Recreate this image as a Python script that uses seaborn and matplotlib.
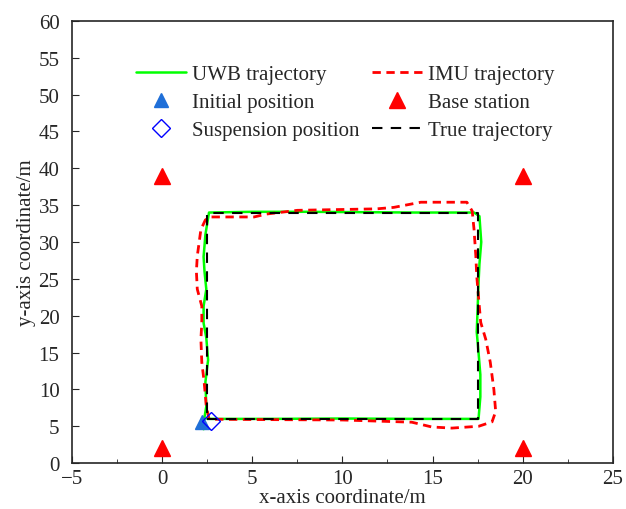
import numpy as np
import pandas as pd
import seaborn as sns
import matplotlib
matplotlib.use("Agg")
import matplotlib.pyplot as plt
from matplotlib.ticker import MultipleLocator

# True trajectory (rectangle corners)
true_x = [2.5, 17.5, 17.5, 2.5, 2.5]
true_y = [6, 6, 34, 34, 6]

# UWB trajectory
uwb_x = [2.3, 2.3, 2.45, 2.4, 2.55, 2.45, 2.3, 2.3, 2.45, 2.35, 2.3, 2.4, 2.6,
         5.0, 8.0, 11.0, 14.0, 17.3, 17.6, 17.7, 17.6, 17.55, 17.5, 17.45,
         17.55, 17.65, 17.65, 17.55, 14.0, 10.0, 6.0, 2.5]
uwb_y = [4.6, 5.5, 7.7, 11.0, 14.0, 17.0, 19.0, 21.3, 23.6, 26.0, 28.0, 31.0, 34.0,
         34.1, 34.1, 34.05, 34.0, 34.0, 33.5, 30.0, 27.0, 24.5, 21.0, 17.8,
         15.0, 12.0, 9.0, 6.0, 6.0, 6.05, 6.0, 6.0]

# IMU trajectory
imu_x = [2.6, 2.45, 2.33, 2.2, 2.15, 2.2, 2.2, 1.95, 1.9, 1.95, 2.15, 2.4, 2.7,
         5.1, 5.8, 7.5, 11.9, 12.85, 14.35, 16.9, 17.2, 17.3, 17.4, 17.45,
         17.56, 17.67, 17.95, 18.2, 18.4, 18.5, 18.3, 17.56, 16.07, 14.96,
         13.85, 10.0, 6.0, 2.8]
imu_y = [6.0, 7.7, 11.0, 13.7, 16.8, 19.0, 21.3, 23.6, 26.0, 28.1, 31.7, 33.0, 33.4,
         33.4, 33.8, 34.3, 34.5, 34.7, 35.4, 35.4, 34.2, 31.7, 28.1, 25.4,
         22.2, 19.1, 16.8, 13.7, 10.0, 7.0, 5.6, 5.0, 4.75, 4.9,
         5.55, 5.85, 5.9, 5.95]

# Markers
base_x = [0, 20, 0, 20]
base_y = [2, 2, 39, 39]
init_x, init_y = [2.2], [5.6]
susp_x, susp_y = [2.7], [5.7]

sns.set_style("ticks")
plt.rcParams['font.family'] = ['Liberation Serif', 'DejaVu Serif']
plt.rcParams['font.size'] = 15

fig = plt.figure(figsize=(6.26, 5.10), dpi=100)
ax = fig.add_axes([0.115, 0.09, 0.864, 0.867])

uwb = pd.DataFrame({"x": uwb_x, "y": uwb_y})
imu = pd.DataFrame({"x": imu_x, "y": imu_y})
true = pd.DataFrame({"x": true_x, "y": true_y})

sns.lineplot(data=uwb, x="x", y="y", sort=False, estimator=None, ax=ax,
             color="#00ff00", lw=1.8, label="UWB trajectory", zorder=3)
sns.lineplot(data=imu, x="x", y="y", sort=False, estimator=None, ax=ax,
             color="red", lw=2, dashes=(3, 2), label="IMU trajectory", zorder=3)
sns.lineplot(data=true, x="x", y="y", sort=False, estimator=None, ax=ax,
             color="black", lw=1.5, dashes=(5, 4), label="True trajectory", zorder=4)

ax.plot(init_x, init_y, ls="none", marker="^", ms=10, color="#1f6fd8",
        label="Initial position", zorder=5)
ax.plot(base_x, base_y, ls="none", marker="^", ms=11, color="red",
        label="Base station", zorder=5)
ax.plot(susp_x, susp_y, ls="none", marker="D", ms=9, mfc="none", mec="blue",
        mew=1, label="Suspension position", zorder=6)

handles, labels = ax.get_legend_handles_labels()
order = ["UWB trajectory", "Initial position", "Suspension position",
         "IMU trajectory", "Base station", "True trajectory"]
h = [handles[labels.index(o)] for o in order]
ax.legend(h, order, ncol=2, frameon=False, loc="center",
          bbox_to_anchor=(0.505, 0.816), fontsize=15, handlelength=2.4,
          columnspacing=0.6, labelspacing=0.4, handletextpad=0.3)

ax.set_xlim(-5, 25)
ax.set_ylim(0, 60)
ax.xaxis.set_major_locator(MultipleLocator(5))
ax.xaxis.set_minor_locator(MultipleLocator(2.5))
ax.yaxis.set_major_locator(MultipleLocator(5))
ax.tick_params(direction="in", which="both", top=False, right=False, labelsize=15)
ax.tick_params(which="major", length=5)
ax.tick_params(axis="y", pad=9)
ax.tick_params(axis="x", pad=4)
ax.tick_params(which="minor", length=3)
for s in ax.spines.values():
    s.set_linewidth(1.2)
ax.set_xlabel("x-axis coordinate/m", fontsize=15, labelpad=0)
ax.set_ylabel("y-axis coordinate/m", fontsize=15, labelpad=2)

fig.savefig("out.png", dpi=100)
